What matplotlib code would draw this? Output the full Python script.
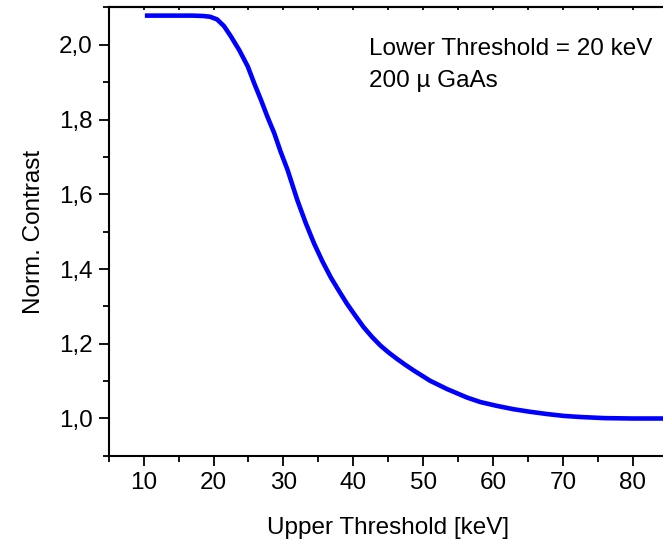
import matplotlib
matplotlib.use("Agg")
import matplotlib.pyplot as plt
from matplotlib.ticker import FuncFormatter, MultipleLocator

# Upper threshold [keV] vs normalised contrast
upper_kev = [10.5, 14.0, 17.0, 18.5, 19.5, 20.5, 21.5, 22.5, 23.7, 24.9,
             25.8, 26.8, 27.7, 28.7, 29.6, 30.6, 32.0, 33.2, 34.4, 35.6,
             36.8, 38.0, 39.1, 40.3, 41.5, 42.7, 43.9, 45.1, 46.3, 47.5,
             48.7, 51.0, 53.4, 56.3, 58.2, 60.5, 62.9, 65.3, 67.7, 70.1,
             72.5, 76.0, 80.0, 85.0]
contrast = [2.078, 2.078, 2.078, 2.077, 2.075, 2.068, 2.050, 2.022, 1.985, 1.942,
            1.898, 1.852, 1.808, 1.763, 1.714, 1.665, 1.584, 1.523, 1.468, 1.420,
            1.377, 1.340, 1.307, 1.275, 1.244, 1.218, 1.195, 1.176, 1.159, 1.143,
            1.128, 1.101, 1.079, 1.056, 1.044, 1.034, 1.025, 1.018, 1.012, 1.007,
            1.004, 1.001, 1.000, 1.000]

plt.rcParams["font.family"] = ["Liberation Sans", "DejaVu Sans"]
FS = 17.5

fig = plt.figure(figsize=(6.63, 5.44), dpi=100)
ax = fig.add_axes([0.164, 0.162, 0.843, 0.8244])

ax.plot(upper_kev, contrast, color="#0000ff", linewidth=3.3,
        solid_joinstyle="round")

ax.set_xlim(5, 85)
ax.set_ylim(0.9, 2.1)

ax.xaxis.set_major_locator(MultipleLocator(10))
ax.xaxis.set_minor_locator(MultipleLocator(5))
ax.yaxis.set_major_locator(MultipleLocator(0.2))
ax.yaxis.set_minor_locator(MultipleLocator(0.1))
ax.yaxis.set_major_formatter(FuncFormatter(lambda v, p: f"{v:.1f}".replace(".", ",")))
ax.xaxis.set_major_formatter(FuncFormatter(lambda v, p: f"{v:.0f}" if v >= 10 else ""))

ax.tick_params(axis="both", which="major", direction="out", length=7.5, width=1.3,
               labelsize=FS, pad=4)
ax.tick_params(axis="both", which="minor", direction="out", length=4, width=1.3)
ax.tick_params(top=False, right=False)

for side in ("left", "bottom", "top"):
    ax.spines[side].set_linewidth(1.5)
ax.spines["right"].set_visible(False)

# top axis: small inward ticks, no labels
top = ax.secondary_xaxis("top")
top.xaxis.set_major_locator(MultipleLocator(5))
top.tick_params(direction="in", length=2.5, width=1.3, labeltop=False)
top.spines["top"].set_linewidth(1.5)

ax.set_xlabel("Upper Threshold [keV]", fontsize=FS, labelpad=17)
ax.set_ylabel("Norm. Contrast", fontsize=FS, labelpad=10)

ax.text(0.4657, 0.894, "Lower Threshold = 20 keV", transform=ax.transAxes,
        fontsize=FS, va="baseline", ha="left")
ax.text(0.4657, 0.8225, "200 \u00b5 GaAs", transform=ax.transAxes,
        fontsize=FS, va="baseline", ha="left")

fig.savefig("out.png", dpi=100)
